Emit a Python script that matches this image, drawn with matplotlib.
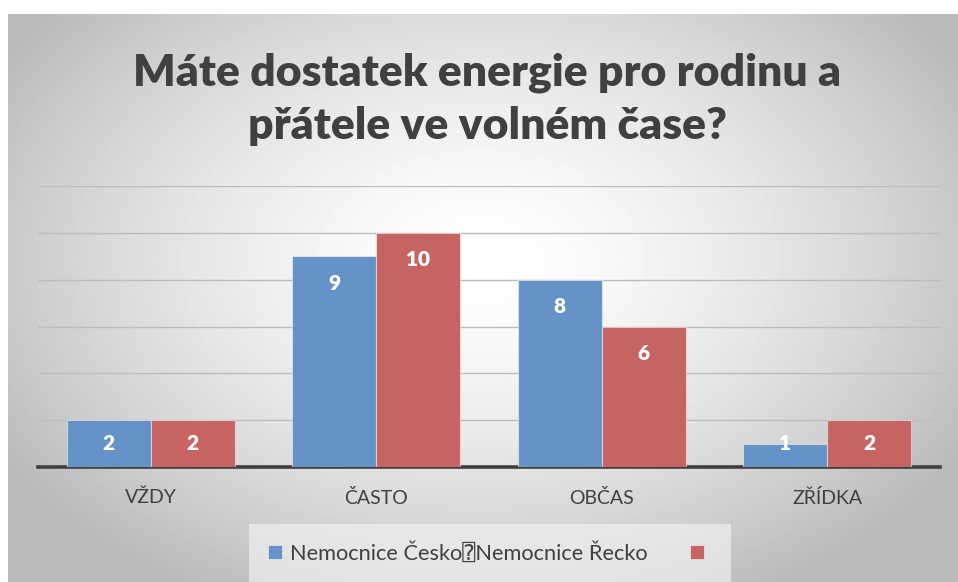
import matplotlib.pyplot as plt
import numpy as np

# data
categories = ["VŽDY", "ČASTO", "OBČAS", "ZŘÍDKA"]
cesko = [2, 9, 8, 1]
recko = [2, 10, 6, 2]
series_labels = ["Nemocnice Česko\u2370Nemocnice Řecko", ""]
title = "Máte dostatek energie pro rodinu a\npřátele ve volném čase?"

BLUE = "#6592c7"
RED = "#c66462"
FONT = ["Lato", "DejaVu Sans", "DejaVu Sans Mono", "Noto Sans"]

W, H = 958, 582
fig = plt.figure(figsize=(W / 100, H / 100), dpi=100)

# radial grey-to-white background of the chart frame
bg = fig.add_axes([8 / W, 0, 1 - 8 / W, 1 - 14 / H])
yy, xx = np.mgrid[14:H, 8:W]
d = np.sqrt(((xx - 480) / 560.0) ** 2 + ((yy - 260) / 380.0) ** 2)
shade = 1 - 0.27 * np.clip(d, 0, 1) ** 1.5
bg.imshow(shade, cmap="gray", vmin=0, vmax=1, aspect="auto", interpolation="bilinear")
bg.set_axis_off()

ax = fig.add_axes([38 / W, (H - 467) / H, 902 / W, (467 - 186) / H])
ax.patch.set_alpha(0)

x = np.arange(len(categories))
width = 0.373
b1 = ax.bar(x - width / 2, cesko, width, color=BLUE, edgecolor=(1, 1, 1, 0.5), linewidth=0.8, zorder=3)
b2 = ax.bar(x + width / 2, recko, width, color=RED, edgecolor=(1, 1, 1, 0.5), linewidth=0.8, zorder=3)

# inside-end labels; short bars get the label nudged like Excel does
for bars, vals in ((b1, cesko), (b2, recko)):
    for rect, v in zip(bars, vals):
        ly = v - 1.15 if v >= 2.3 else max(v / 2, 1.0)
        ax.text(rect.get_x() + rect.get_width() / 2, ly, str(v), ha="center", va="center",
                color="white", fontsize=15, fontweight="heavy", family=FONT, zorder=4)

ax.set_xlim(-0.5, len(categories) - 0.5)
ax.set_ylim(0, 12)
ax.set_yticks(np.arange(2, 13, 2))
ax.yaxis.grid(True, color="#bdbdbd", linewidth=1)
ax.set_axisbelow(True)
ax.tick_params(axis="y", left=False, labelleft=False)
ax.tick_params(axis="x", bottom=False, pad=12)
ax.set_xticks(x)
ax.set_xticklabels(categories, fontsize=14, color="#404040", family=FONT)
for side in ("top", "right", "left"):
    ax.spines[side].set_visible(False)
ax.spines["bottom"].set_color("#3f3f3f")
ax.spines["bottom"].set_linewidth(2.6)

fig.text(487 / W, 1 - 99 / H, title, ha="center", va="center", fontsize=32,
         fontweight="heavy", color="#404040", family=FONT, linespacing=1.4)

leg = fig.legend([b1, b2], series_labels, loc="center", bbox_to_anchor=(490 / W, 1 - 553 / H),
                 ncol=2, frameon=True, handlelength=0.65, handleheight=0.65,
                 handletextpad=0.4, columnspacing=1.9, borderpad=0.55,
                 prop={"family": FONT, "size": 15.7})
leg.get_frame().set_facecolor("#f6f6f6")
leg.get_frame().set_alpha(0.6)
leg.get_frame().set_edgecolor("none")
leg.get_frame().set_boxstyle("square")
for t in leg.get_texts():
    t.set_color("#404040")

fig.savefig("out.png", dpi=100)
